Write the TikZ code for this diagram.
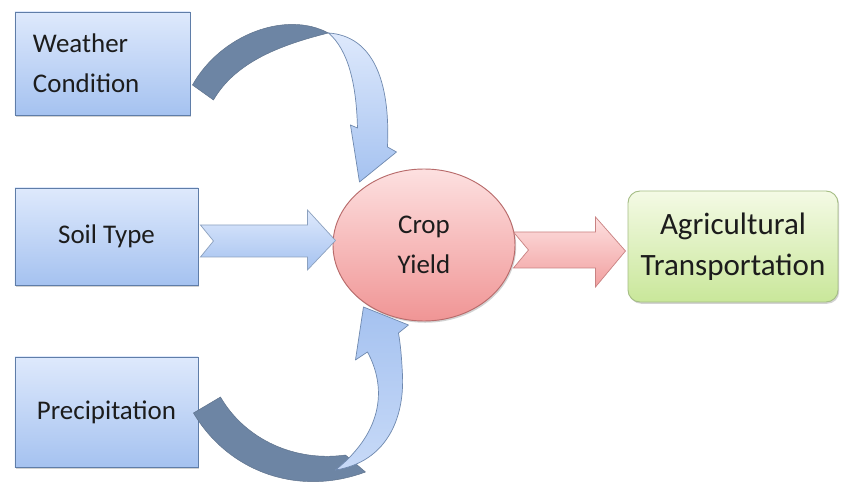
\documentclass[tikz,border=0pt]{standalone}
\usepackage{fontspec}
\setmainfont{Carlito}
\usepackage{tikz}
\usetikzlibrary{positioning,shapes,arrows,calc,shadows}

\definecolor{boxtop}{HTML}{DEE9FC}
\definecolor{boxbottom}{HTML}{A5C2F0}
\definecolor{boxline}{HTML}{5F7DA8}
\definecolor{croptop}{HTML}{FDE0E0}
\definecolor{cropbottom}{HTML}{F09595}
\definecolor{cropline}{HTML}{B86B6B}
\definecolor{agritop}{HTML}{F4FAE5}
\definecolor{agribottom}{HTML}{C9E79A}
\definecolor{agriline}{HTML}{A5BD85}
\definecolor{ribbondark}{HTML}{6D85A4}
\definecolor{ribbonline}{HTML}{6F89AF}
\definecolor{redline}{HTML}{C98282}
\definecolor{textdark}{HTML}{1C1C1C}

\tikzset{%
	block/.style    = {draw=boxline, rectangle, top color=boxtop,
		bottom color=boxbottom, text=textdark,
		drop shadow={shadow xshift=1pt, shadow yshift=-1.5pt, opacity=.35},
		font=\fontsize{23}{34}\selectfont},
	backribbon/.style = {fill=ribbondark, draw=ribbondark!85!black, line width=0.4pt},
	frontribbon/.style = {top color=boxtop, bottom color=boxbottom,
		draw=ribbonline, line width=0.6pt, line join=round},
	softarrow/.style = {top color=boxtop, bottom color=boxbottom,
		draw=ribbonline!80, line width=0.6pt},
	redarrow/.style  = {top color=croptop, bottom color=cropbottom!90,
		draw=redline, line width=0.6pt}
}

\begin{document}
\begin{tikzpicture}[thick, x=0.03cm, y=-0.03cm, >=stealth]
        \path[use as bounding box, fill=white] (0,0) rectangle (844,486);
        \draw
            node at (102.5,63.5)[block, name=weather, align=left, text width=4.17cm,
                inner xsep=0.54cm, minimum height=3.09cm] {Weather\\Condition}
            node at (106.5,236.5)[block, name=soil, minimum width=5.49cm,
                minimum height=2.91cm] {Soil Type}
            node at (106.5,412)[block, name=precip, minimum width=5.49cm,
                minimum height=3.3cm] {Precipitation}
            node at (424,245)[block, ellipse, name=crop, draw=cropline, top color=croptop,
                bottom color=cropbottom, align=center, inner sep=0pt,
                minimum width=5.46cm, minimum height=4.56cm] {Crop\\Yield}
            node at (733,246.5)[block, name=transport, draw=agriline, top color=agritop,
                bottom color=agribottom, rounded corners=0.36cm, align=center,
                font=\fontsize{26.5}{35}\selectfont,
                minimum width=6.3cm, minimum height=3.33cm] {Agricultural\\Transportation};

            % curved arrow, weather -> crop
            \begin{scope}[shift={(weather.east)}]
            \draw[backribbon] (2,21.5) .. controls (30,-28.5) and (95,-53.5) .. (138,-30.5)
                .. controls (90,-18.5) and (45,-1.5) .. (23,36.5) -- cycle;
            \draw[frontribbon] (138,-30.5) .. controls (182,-27.5) and (200,16.5) .. (197,83.5)
                -- (206,88.5) -- (169,118.5) -- (160,61.5) -- (167,64.5)
                .. controls (166,21.5) and (158,-13.5) .. (138,-30.5) -- cycle;
            \end{scope}

            % curved arrow, precipitation -> crop
            \begin{scope}[shift={(precip.east)}]
            \draw[backribbon] (-5,1) .. controls (30,60) and (100,85) .. (167,60)
                -- (147,43) .. controls (97,50) and (47,28) .. (22,-15) -- cycle;
            \draw[frontribbon, top color=boxbottom, bottom color=boxtop!60!boxbottom]
                (137,58) .. controls (187,50) and (206,8) .. (204,-37)
                .. controls (203,-57) and (202,-67) .. (200,-79)
                -- (210,-87) -- (165,-105) -- (157,-52) -- (169,-60)
                .. controls (187,-27) and (187,18) .. (137,58) -- cycle;
            \end{scope}

            % straight arrows
            \draw[softarrow, shift={(soil.east)}] (2,-11.5) -- (15,4.5) -- (2,20.5)
                -- (109,20.5) -- (109,33.5) -- (137,4) -- (109,-26.5) -- (109,-11.5) -- cycle;
            \draw[redarrow, shift={(crop.east)}] (-2,-13) -- (13,5) -- (-2,23)
                -- (80,23) -- (80,42) -- (110,6) -- (80,-28) -- (80,-13) -- cycle;
    \end{tikzpicture}
\end{document}
